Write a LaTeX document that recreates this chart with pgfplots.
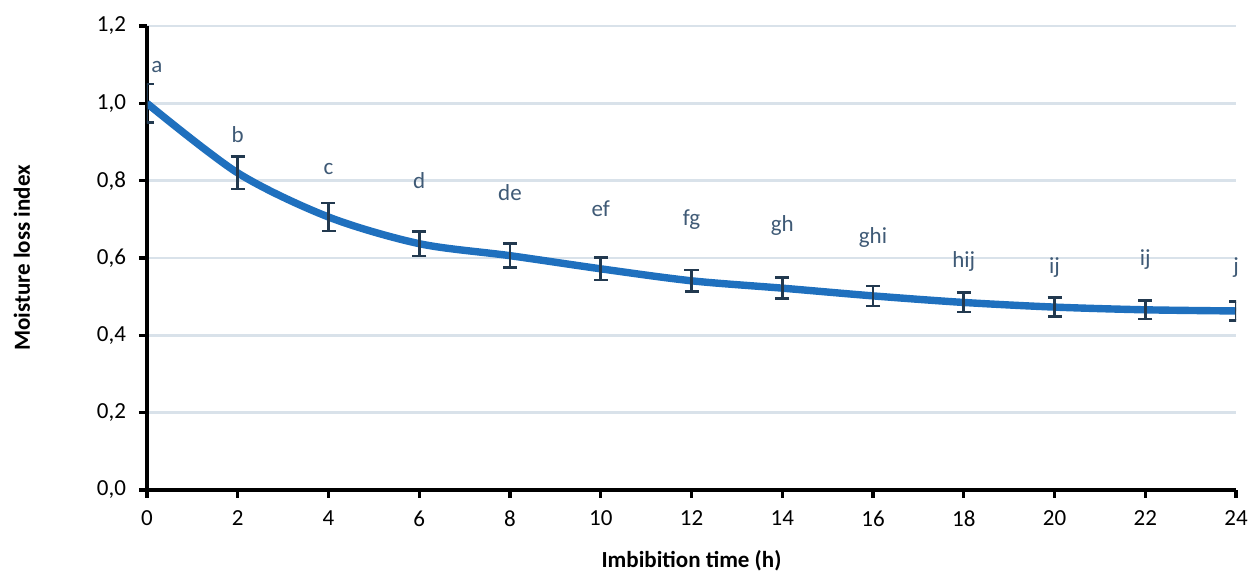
\documentclass[border=0pt]{standalone}
\usepackage{fontspec}
\setmainfont{Carlito}
\usepackage{pgfplots}
\pgfplotsset{compat=1.18}

\definecolor{curve}{HTML}{1F70BE}
\definecolor{errc}{HTML}{22394F}
\definecolor{lett}{HTML}{3F5A76}
\definecolor{gridc}{HTML}{D9E2EA}

\begin{document}
\begin{tikzpicture}[font=\fontsize{11.5}{13.8}\selectfont]
\useasboundingbox (-73.5pt,-43pt) rectangle (550.5pt,245pt);
\begin{axis}[
    scale only axis,
    width=544.5pt, height=232pt,
    xmin=0, xmax=24, ymin=0, ymax=1.2,
    xtick={0,2,...,24},
    ytick={0,0.2,...,1.2},
    axis lines=left,
    axis line style={-, line width=1.7pt, black},
    tick align=outside,
    major tick length=4pt,
    tick style={line width=1.7pt, black},
    xtick pos=left, ytick pos=left,
    ymajorgrids=true,
    major grid style={gridc, line width=1.2pt},
    /pgf/number format/assume math mode=true,
    yticklabel style={xshift=-3pt, /pgf/number format/.cd, fixed, fixed zerofill, precision=1, use comma},
    xticklabel style={yshift=-3pt},
    xlabel={\bfseries Imbibition time (h)},
    ylabel={\bfseries Moisture loss index},
    every axis x label/.style={at={(axis description cs:0.5,-0.153)}, anchor=center},
    every axis y label/.style={at={(axis description cs:-0.1148,0.5)}, rotate=90, anchor=center},
]

% mean curve
\addplot[curve, line width=3.7pt, smooth] coordinates {
    (0,1.000) (2,0.820) (4,0.706) (6,0.637) (8,0.606) (10,0.572) (12,0.541)
    (14,0.522) (16,0.502) (18,0.485) (20,0.473) (22,0.466) (24,0.463)
};

% error bars
\addplot[draw=none, mark=none,
    error bars/.cd, y dir=both, y explicit,
    error bar style={draw=errc, line width=1.3pt},
    error mark options={draw=errc, line width=1.3pt, mark size=3.5pt, rotate=90}]
coordinates {
    (0,1.000) +- (0,0.050)
    (2,0.820) +- (0,0.042)
    (4,0.706) +- (0,0.036)
    (6,0.637) +- (0,0.032)
    (8,0.606) +- (0,0.031)
    (10,0.572) +- (0,0.029)
    (12,0.541) +- (0,0.028)
    (14,0.522) +- (0,0.027)
    (16,0.502) +- (0,0.026)
    (18,0.485) +- (0,0.025)
    (20,0.473) +- (0,0.025)
    (22,0.466) +- (0,0.024)
    (24,0.463) +- (0,0.024)
};

% significance letters
\addplot[draw=none, mark=none, nodes near coords, point meta=explicit symbolic,
    every node near coord/.style={anchor=center, lett, inner sep=0pt}]
coordinates {
    (0.22,1.093)[a] (2,0.920)[b] (4,0.830)[c] (6,0.800)[d] (8,0.770)[de]
    (10,0.727)[ef] (12,0.700)[fg] (14,0.683)[gh] (16,0.652)[ghi]
    (18,0.590)[hij] (20,0.574)[ij] (22,0.597)[ij] (24,0.574)[j]
};
\end{axis}
\end{tikzpicture}
\end{document}
